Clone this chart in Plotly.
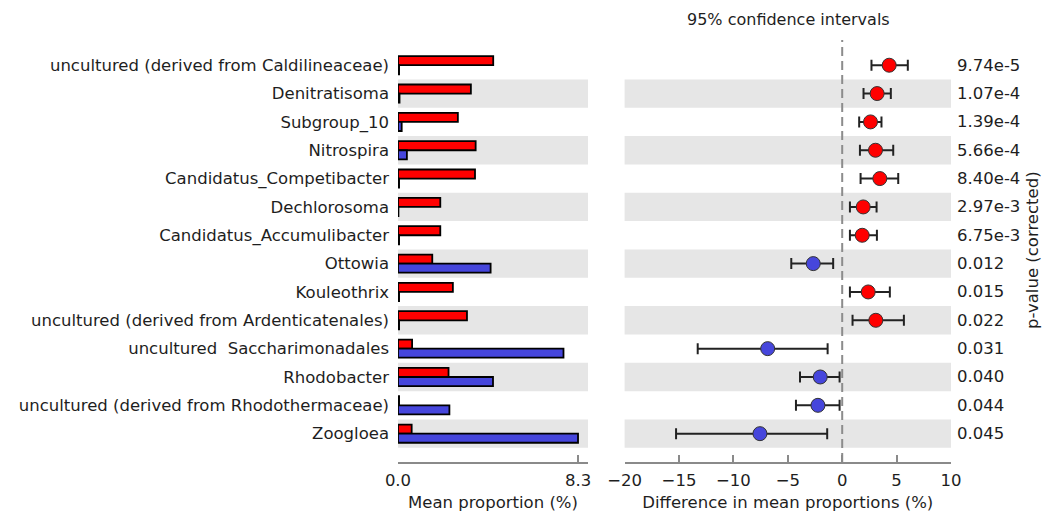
import plotly.graph_objects as go

# Genera compared between the two groups (top to bottom)
taxa = [
    "uncultured (derived from Caldilineaceae)",
    "Denitratisoma",
    "Subgroup_10",
    "Nitrospira",
    "Candidatus_Competibacter",
    "Dechlorosoma",
    "Candidatus_Accumulibacter",
    "Ottowia",
    "Kouleothrix",
    "uncultured (derived from Ardenticatenales)",
    "uncultured  Saccharimonadales",
    "Rhodobacter",
    "uncultured (derived from Rhodothermaceae)",
    "Zoogloea",
]

# Mean proportions (%) of each group
mean_red = [4.39, 3.36, 2.76, 3.58, 3.55, 1.95, 1.95, 1.58, 2.53, 3.18, 0.65, 2.33, 0.05, 0.63]
mean_blue = [0.05, 0.07, 0.17, 0.41, 0.05, 0.02, 0.05, 4.27, 0.05, 0.05, 7.63, 4.38, 2.37, 8.30]

# Difference in mean proportions (%) with 95% confidence interval bounds
diff = [4.32, 3.21, 2.60, 3.06, 3.46, 1.93, 1.84, -2.66, 2.39, 3.09, -6.85, -2.02, -2.23, -7.56]
ci_low = [2.69, 1.96, 1.56, 1.63, 1.69, 0.71, 0.71, -4.68, 0.71, 0.95, -13.28, -3.88, -4.25, -15.27]
ci_high = [6.03, 4.47, 3.61, 4.69, 5.15, 3.16, 3.19, -0.83, 4.38, 5.67, -1.34, -0.24, -0.24, -1.38]

p_values = ["9.74e-5", "1.07e-4", "1.39e-4", "5.66e-4", "8.40e-4", "2.97e-3", "6.75e-3",
            "0.012", "0.015", "0.022", "0.031", "0.040", "0.044", "0.045"]

RED = "#ff0000"
BLUE = "#4646dc"
FONT = "DejaVu Sans"
TXT = "#1e1e1e"
FS = 16.5
AX_COLOR = "#8a8a8a"
W, H = 1050, 514

rows = list(range(len(taxa)))

fig = go.Figure()

# Alternating grey row bands in both panels
for i in rows:
    if i % 2 == 1:
        for xr in ("x domain", "x2 domain"):
            fig.add_shape(type="rect", xref=xr, yref="y", x0=0, x1=1,
                          y0=i - 0.5, y1=i + 0.5, fillcolor="#e6e6e6",
                          line_width=0, layer="below")

# Mean proportion bars
fig.add_trace(go.Bar(x=mean_red, y=rows, orientation="h", width=0.32, offset=-0.32,
                     marker=dict(color=RED, line=dict(color="black", width=1.8)),
                     xaxis="x", yaxis="y", showlegend=False))
fig.add_trace(go.Bar(x=mean_blue, y=rows, orientation="h", width=0.32, offset=0,
                     marker=dict(color=BLUE, line=dict(color="black", width=1.8)),
                     xaxis="x", yaxis="y", showlegend=False))

# Confidence intervals
colors = [RED if d > 0 else BLUE for d in diff]
fig.add_trace(go.Scatter(
    x=diff, y=rows, mode="markers", xaxis="x2", yaxis="y",
    marker=dict(size=14, color=colors, line=dict(color="#333333", width=1)),
    error_x=dict(type="data", symmetric=False,
                 array=[h - d for h, d in zip(ci_high, diff)],
                 arrayminus=[d - l for d, l in zip(diff, ci_low)],
                 color="#222222", thickness=2, width=5.5),
    showlegend=False))

# Zero reference line
fig.add_shape(type="line", xref="x2", yref="y domain", x0=0, x1=0, y0=0, y1=1,
              line=dict(color="#8c8c8c", width=2, dash="9px,5px"), layer="below")

y_top, y_bot = 40, 462
y_range = [14.0, -0.89]

axis_common = dict(showline=True, linecolor=AX_COLOR, linewidth=1.5,
                   ticks="inside", ticklen=7, tickwidth=1.5, tickcolor=AX_COLOR,
                   showgrid=False, zeroline=False, automargin=False,
                   ticklabelstandoff=2,
                   tickfont=dict(family=FONT, size=FS, color=TXT),
                   title_font=dict(family=FONT, size=FS, color=TXT))

fig.update_layout(
    width=W, height=H,
    margin=dict(l=0, r=0, t=0, b=0),
    paper_bgcolor="white", plot_bgcolor="white",
    barmode="overlay",
    font=dict(family=FONT, size=FS, color=TXT),
    xaxis=dict(domain=[398 / W, 588 / W], range=[0, 8.76],
               tickvals=[0, 8.3], ticktext=["0.0", "8.3"],
               title=dict(text="Mean proportion (%)", standoff=8),
               anchor="y", **axis_common),
    xaxis2=dict(domain=[624.6 / W, 951 / W], range=[-20, 10],
                tickvals=[-20, -15, -10, -5, 0, 5, 10],
                ticktext=["\u221220", "\u221215", "\u221210", "\u22125", "0", "5", "10"],
                title=dict(text="Difference in mean proportions (%)", standoff=8),
                anchor="y", **axis_common),
    yaxis=dict(domain=[1 - y_bot / H, 1 - y_top / H], range=y_range,
               tickvals=rows, ticktext=taxa, ticks="", showline=False,
               showgrid=False, zeroline=False, ticklabelstandoff=8, automargin=False,
               tickfont=dict(family=FONT, size=FS, color=TXT)),
)

# p-values column
for i, p in enumerate(p_values):
    fig.add_annotation(x=955 / W, xref="paper", y=i, yref="y", text=p,
                       showarrow=False, xanchor="left", yanchor="middle",
                       font=dict(family=FONT, size=FS, color=TXT))

fig.add_annotation(x=1032 / W, xref="paper", y=1 - 250 / H, yref="paper",
                   text="p-value (corrected)", textangle=-90, showarrow=False,
                   xanchor="center", yanchor="middle",
                   font=dict(family=FONT, size=FS, color=TXT))

fig.add_annotation(x=788 / W, xref="paper", y=1 - 20 / H, yref="paper",
                   text="95% confidence intervals", showarrow=False,
                   xanchor="center", yanchor="middle",
                   font=dict(family=FONT, size=16, color=TXT))

fig.write_html("out.html")
